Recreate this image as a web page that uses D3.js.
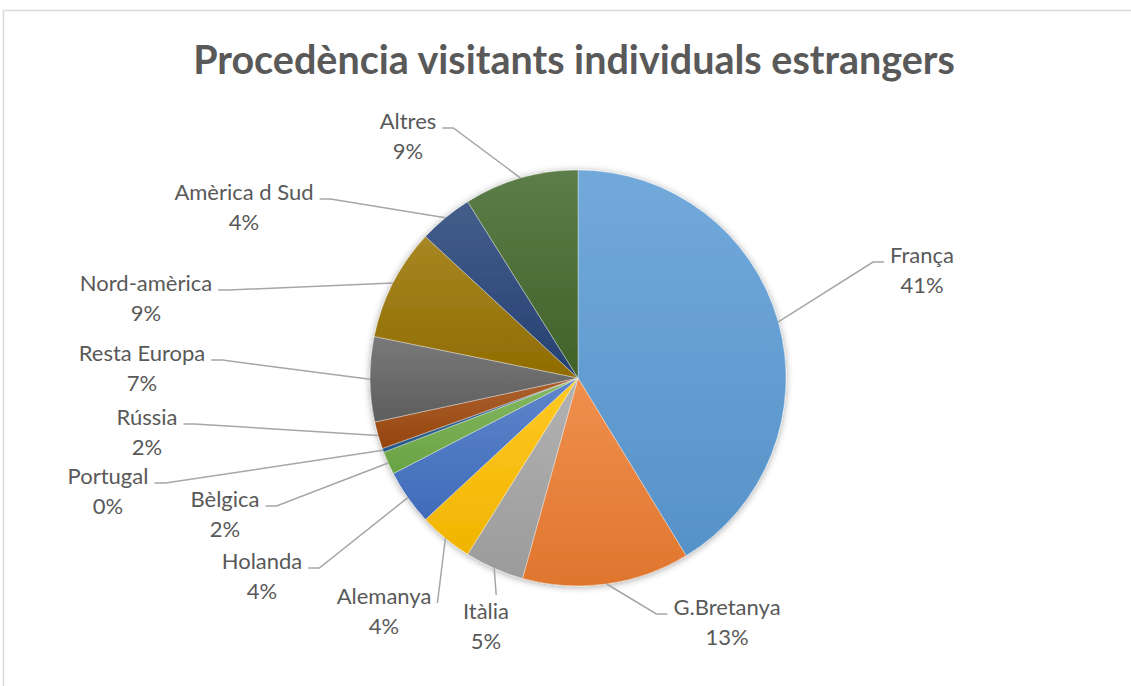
<!DOCTYPE html>
<html>
<head>
<meta charset="utf-8">
<script src="https://cdn.jsdelivr.net/npm/d3@7"></script>
<style>
  body { margin: 0; background: #fff; }
  text { font-family: Lato, "Open Sans", sans-serif; fill: #595959; }
</style>
</head>
<body>
<div id="chart"></div>
<script>
// data
const categories = ["França", "G.Bretanya", "Itàlia", "Alemanya", "Holanda", "Bèlgica",
  "Portugal", "Rússia", "Resta Europa", "Nord-amèrica", "Amèrica d Sud", "Altres"];
const shares = [41.3, 13.0, 4.6, 4.2, 4.3, 1.8, 0.3, 2.1, 6.6, 8.7, 4.2, 8.9];
const colors = ["#5B9BD5", "#ED7D31", "#A5A5A5", "#FFC000", "#4472C4", "#70AD47",
  "#255E91", "#9E480E", "#636363", "#997300", "#264478", "#43682B"];

// label placement (centre x, first baseline) - excel "best fit" positions
const labelPos = [[922, 263], [727, 615], [486, 619], [384, 604], [262, 569], [225, 507],
  [108, 484], [147, 425], [142, 361], [146, 291], [244, 200], [408, 129]];

const width = 1131, height = 686;
const cx = 578, cy = 378, radius = 208;

const data = categories.map((c, i) => ({label: c, value: shares[i], color: colors[i], pos: labelPos[i]}));
const total = d3.sum(shares);

const svg = d3.select('#chart')
  .append('svg')
  .attr('width', width)
  .attr('height', height);

const defs = svg.append('defs');

const shadow = defs.append('filter')
  .attr('id', 'shadow')
  .attr('x', '-10%').attr('y', '-10%')
  .attr('width', '120%').attr('height', '120%');
shadow.append('feDropShadow')
  .attr('dx', 0).attr('dy', 1)
  .attr('stdDeviation', 3.5)
  .attr('flood-color', '#000')
  .attr('flood-opacity', 0.35);

data.forEach((d, i) => {
  const g = defs.append('linearGradient')
    .attr('id', 'grad' + i)
    .attr('x1', 0).attr('y1', 0).attr('x2', 0).attr('y2', 1);
  g.append('stop').attr('offset', '0%').attr('stop-color', d3.interpolateRgb(d.color, '#fff')(0.14));
  g.append('stop').attr('offset', '100%').attr('stop-color', d3.interpolateRgb(d.color, '#000')(0.06));
});

// chart border
svg.append('rect')
  .attr('x', 3.5).attr('y', 10.5)
  .attr('width', 1140).attr('height', 700)
  .attr('fill', 'none')
  .attr('stroke', '#d9d9d9')
  .attr('stroke-width', 1.5);

svg.append('text')
  .attr('x', 574).attr('y', 74)
  .attr('text-anchor', 'middle')
  .style('font-size', '39.5px')
  .style('font-weight', 'bold')
  .text('Procedència visitants individuals estrangers');

const pie = d3.pie()
  .sort(null)
  .value(d => d.value);

const arcGenerator = d3.arc()
  .innerRadius(0)
  .outerRadius(radius);

const edgeArc = d3.arc()
  .innerRadius(radius)
  .outerRadius(radius);

const arcs = pie(data);

const g = svg.append('g')
  .attr('transform', `translate(${cx}, ${cy})`);

g.append('g')
  .attr('filter', 'url(#shadow)')
  .selectAll('path')
  .data(arcs)
  .enter()
  .append('path')
  .attr('d', arcGenerator)
  .attr('fill', (d, i) => `url(#grad${i})`)
  .attr('stroke', '#ffffff')
  .attr('stroke-opacity', 0.6)
  .attr('stroke-width', 0.6);

// labels and leader lines
const lineLayer = svg.append('g');
const labelLayer = svg.append('g');

arcs.forEach(d => {
  const [lx, ly] = d.data.pos;
  const t = labelLayer.append('text')
    .attr('text-anchor', 'middle')
    .style('font-size', '22px');
  t.append('tspan').attr('x', lx).attr('y', ly).text(d.data.label);
  t.append('tspan').attr('x', lx).attr('y', ly + 30).text(Math.round(d.data.value / total * 100) + '%');

  const w = t.node().getBBox().width;
  const [ex0, ey0] = edgeArc.centroid(d);
  const ex = cx + ex0, ey = cy + ey0;

  let pts;
  if (lx + w / 2 < ex - 8) {
    const ax = lx + w / 2 + 6, ay = ly - 1;
    const bx = ax + 11;
    pts = (ex >= ax && ex <= bx) ? [[ex, ey], [ax, ay]] : [[ex, ey], [bx, ay], [ax, ay]];
  } else if (lx - w / 2 > ex + 8) {
    const ax = lx - w / 2 - 6, ay = ly - 1;
    const bx = ax - 11;
    pts = (ex <= ax && ex >= bx) ? [[ex, ey], [ax, ay]] : [[ex, ey], [bx, ay], [ax, ay]];
  } else {
    pts = [[ex, ey], [ex + 2, ly - 24]];
  }

  lineLayer.append('path')
    .attr('d', d3.line()(pts))
    .attr('fill', 'none')
    .attr('stroke', '#a6a6a6')
    .attr('stroke-width', 1.5);
});
</script>
</body>
</html>
